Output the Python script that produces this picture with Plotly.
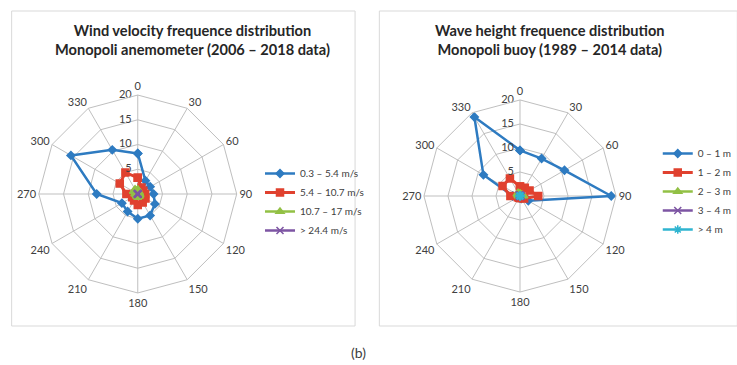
import plotly.graph_objects as go

W, H = 737, 365

# 12 compass directions (degrees) used as radar spokes
DIRECTIONS = ["0", "30", "60", "90", "120", "150", "180", "210", "240", "270", "300", "330"]

# Wind velocity frequency (%) per direction, Monopoli anemometer
WIND_LABELS = ["0.3 – 5.4 m/s", "5.4 – 10.7 m/s", "10.7 – 17 m/s", "> 24.4 m/s"]
WIND_0_5 = [8.2, 3.1, 2.9, 3.2, 4.0, 5.0, 5.0, 4.1, 3.7, 8.3, 15.6, 10.3]
WIND_5_11 = [3.3, 1.5, 1.3, 1.5, 1.8, 2.0, 2.2, 1.5, 1.3, 2.3, 4.2, 5.0]
WIND_11_17 = [0.9, 0.5, 0.4, 0.4, 0.5, 0.6, 0.7, 0.5, 0.4, 0.6, 1.0, 1.1]
WIND_24 = [0.1, 0.05, 0.05, 0.05, 0.05, 0.05, 0.05, 0.05, 0.05, 0.05, 0.1, 0.1]

# Wave height frequency (%) per direction, Monopoli buoy
WAVE_LABELS = ["0 – 1 m", "1 – 2 m", "2 – 3 m", "3 – 4 m", "> 4 m"]
WAVE_0_1 = [9.5, 9.0, 10.7, 19.0, 2.0, 0.6, 0.4, 0.4, 0.5, 1.5, 8.8, 19.0]
WAVE_1_2 = [2.0, 2.0, 2.3, 3.8, 1.0, 0.5, 0.4, 0.4, 0.5, 2.0, 4.2, 4.2]
WAVE_2_3 = [0.5, 0.4, 0.5, 0.8, 0.3, 0.2, 0.2, 0.2, 0.2, 0.4, 0.7, 0.8]
WAVE_3_4 = [0.2, 0.1, 0.2, 0.3, 0.1, 0.1, 0.1, 0.1, 0.1, 0.1, 0.2, 0.3]
WAVE_4 = [0.1, 0.05, 0.1, 0.1, 0.05, 0.05, 0.05, 0.05, 0.05, 0.05, 0.1, 0.1]

RADIAL_TICKS = [0, 5, 10, 15, 20]
RADIAL_TICK_TEXT = ["0", "5", "10", "15", "20"]

BLUE, RED, GREEN, PURPLE, CYAN = "#2E7BC1", "#E0412F", "#92C045", "#7D55A3", "#2FB4D0"
GRID = "#BFBFBF"
TEXT = "#404040"
FONT = "Lato, 'Open Sans', sans-serif"


def px_x(x):
    return x / W


def px_y(y):
    return 1 - y / H


def closed(vals):
    return list(vals) + [vals[0]]


STYLES = [
    (BLUE, "diamond", 6, 2.5),
    (RED, "square", 7, 3),
    (GREEN, "triangle-up", 7, 2.5),
    (PURPLE, "x-thin-open", 7, 2.5),
    (CYAN, "asterisk-open", 7, 2.5),
]

fig = go.Figure()


def add_radial_labels(subplot):
    # scale labels sit just left of the north spoke, like a radar chart value axis
    fig.add_trace(go.Scatterpolar(
        r=RADIAL_TICKS, theta=[DIRECTIONS[0]] * len(RADIAL_TICKS),
        text=RADIAL_TICK_TEXT, mode="markers+text", textposition="middle left",
        marker=dict(size=8, opacity=0), subplot=subplot,
        textfont=dict(family=FONT, size=11, color=TEXT),
        showlegend=False, hoverinfo="skip",
    ))


wind_series = [WIND_0_5, WIND_5_11, WIND_11_17, WIND_24]
for i, (name, vals) in enumerate(zip(WIND_LABELS, wind_series)):
    color, symbol, size, lw = STYLES[i]
    fig.add_trace(go.Scatterpolar(
        r=closed(vals), theta=closed(DIRECTIONS), name=name, subplot="polar",
        mode="lines+markers", legend="legend",
        line=dict(color=color, width=lw),
        marker=dict(symbol=symbol, size=size, color=color,
                    line=dict(color=color, width=1.5)),
    ))

wave_series = [WAVE_0_1, WAVE_1_2, WAVE_2_3, WAVE_3_4, WAVE_4]
for i, (name, vals) in enumerate(zip(WAVE_LABELS, wave_series)):
    color, symbol, size, lw = STYLES[i]
    fig.add_trace(go.Scatterpolar(
        r=closed(vals), theta=closed(DIRECTIONS), name=name, subplot="polar2",
        mode="lines+markers", legend="legend2",
        line=dict(color=color, width=lw),
        marker=dict(symbol=symbol, size=size, color=color,
                    line=dict(color=color, width=1.5)),
    ))

add_radial_labels("polar")
add_radial_labels("polar2")


def polar_layout(cx, cy, rad):
    return dict(
        domain=dict(x=[px_x(cx - rad), px_x(cx + rad)],
                    y=[px_y(cy + rad), px_y(cy - rad)]),
        gridshape="linear",
        bgcolor="white",
        angularaxis=dict(
            type="category", categoryarray=DIRECTIONS, rotation=90,
            direction="clockwise", showline=True, linecolor=GRID, linewidth=1,
            gridcolor=GRID, gridwidth=1, ticks="",
            tickfont=dict(family=FONT, size=11, color=TEXT),
        ),
        radialaxis=dict(
            range=[0, 20], tickvals=RADIAL_TICKS, angle=90,
            showticklabels=False, showline=False, gridcolor=GRID, gridwidth=1,
            ticks="",
        ),
    )


legend_common = dict(
    font=dict(family=FONT, size=10, color=TEXT),
    bgcolor="rgba(0,0,0,0)", xanchor="left", yanchor="top",
    tracegroupgap=0, itemwidth=30,
)

fig.update_layout(
    width=W, height=H, margin=dict(l=0, r=0, t=0, b=0),
    paper_bgcolor="white", plot_bgcolor="white",
    polar=polar_layout(142, 194, 102),
    polar2=polar_layout(536, 196, 99),
    legend=dict(x=px_x(268), y=px_y(159), **legend_common),
    legend2=dict(x=px_x(678), y=px_y(139), **legend_common),
    shapes=[
        dict(type="rect", xref="paper", yref="paper",
             x0=px_x(12), x1=px_x(366), y0=px_y(326), y1=px_y(11),
             line=dict(color="#D9D9D9", width=1)),
        dict(type="rect", xref="paper", yref="paper",
             x0=px_x(391), x1=px_x(760), y0=px_y(326), y1=px_y(11),
             line=dict(color="#D9D9D9", width=1)),
    ],
    annotations=[
        dict(text="<b>Wind velocity frequence distribution<br>Monopoli anemometer (2006 – 2018 data)</b>",
             x=px_x(198), y=px_y(40), xref="paper", yref="paper", showarrow=False,
             xanchor="center", yanchor="middle",
             font=dict(family=FONT, size=14.6, color="#262626"), align="center"),
        dict(text="<b>Wave height frequence distribution<br>Monopoli buoy (1989 – 2014 data)</b>",
             x=px_x(567), y=px_y(40), xref="paper", yref="paper", showarrow=False,
             xanchor="center", yanchor="middle",
             font=dict(family=FONT, size=14.6, color="#262626"), align="center"),
        dict(text="(b)", x=px_x(370), y=px_y(352), xref="paper", yref="paper",
             xanchor="center", yanchor="middle",
             showarrow=False, font=dict(family=FONT, size=14, color=TEXT)),
    ],
)

fig.write_html("out.html")
